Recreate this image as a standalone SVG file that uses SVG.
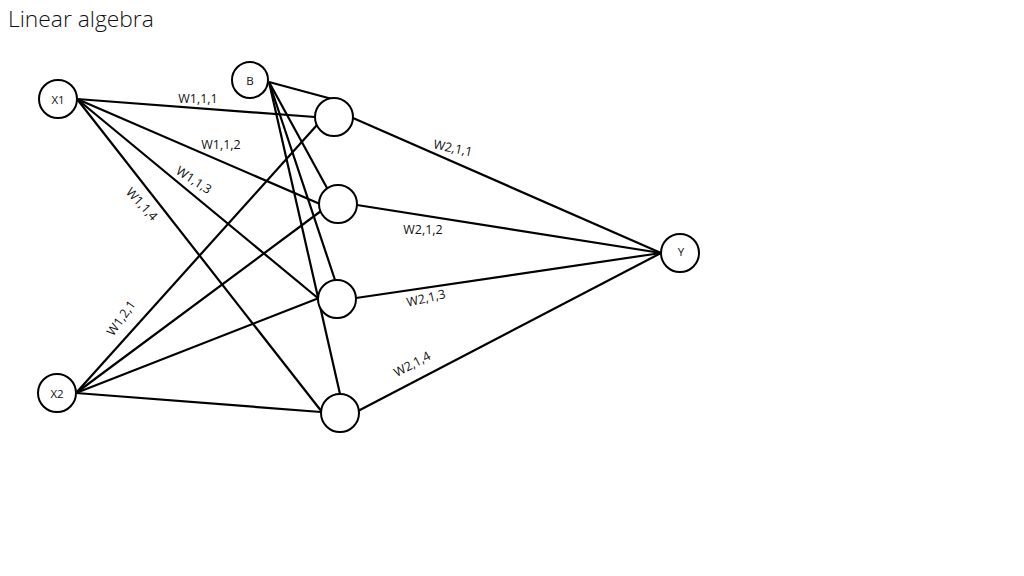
<svg xmlns="http://www.w3.org/2000/svg" width="1024" height="576" viewBox="0 0 1024 576">
<style>
.n{fill:#fff;stroke:#000;stroke-width:2}
.e{stroke:#000;stroke-width:2.2;fill:none}
.t{font-family:"Open Sans","Liberation Sans",sans-serif;font-size:11.5px;fill:#111;text-anchor:middle;dominant-baseline:central}
.w{font-family:"Open Sans","Liberation Sans",sans-serif;font-size:12.5px;fill:#111;text-anchor:middle;dominant-baseline:central}
.title{font-family:"Open Sans","Liberation Sans",sans-serif;font-weight:300;font-size:22.8px;fill:#111}
</style>
<rect width="1024" height="576" fill="#fff"/>
<text class="title" x="8" y="27">Linear algebra</text>
<g id="connectors">
<line class="e" x1="77" y1="99" x2="315" y2="117"/>
<line class="e" x1="77" y1="99" x2="320" y2="204"/>
<line class="e" x1="77" y1="99" x2="319" y2="299"/>
<line class="e" x1="77" y1="99" x2="322" y2="412"/>
<line class="e" x1="76" y1="393" x2="317" y2="125"/>
<line class="e" x1="76" y1="393" x2="321" y2="211"/>
<line class="e" x1="76" y1="393" x2="319" y2="298"/>
<line class="e" x1="76" y1="393" x2="321" y2="412"/>
<line class="e" x1="269" y1="82" x2="332" y2="99"/>
<line class="e" x1="269" y1="82" x2="327" y2="188"/>
<line class="e" x1="269" y1="82" x2="335" y2="280"/>
<line class="e" x1="269" y1="82" x2="340" y2="394"/>
<line class="e" x1="353" y1="118" x2="661" y2="253"/>
<line class="e" x1="357" y1="205" x2="661" y2="253"/>
<line class="e" x1="356" y1="298" x2="661" y2="253"/>
<line class="e" x1="358" y1="411" x2="661" y2="253"/>
</g>
<g id="labels">
<text class="w" x="198" y="98">W1,1,1</text>
<text class="w" x="221" y="144">W1,1,2</text>
<text class="w" x="194" y="180" transform="rotate(33 194 180)">W1,1,3</text>
<text class="w" x="142" y="204" transform="rotate(47 142 204)">W1,1,4</text>
<text class="w" x="121" y="318" transform="rotate(-55 121 318)">W1,2,1</text>
<text class="w" x="453" y="148" transform="rotate(12 453 148)">W2,1,1</text>
<text class="w" x="423" y="229">W2,1,2</text>
<text class="w" x="426" y="298" transform="rotate(-13 426 298)">W2,1,3</text>
<text class="w" x="412" y="364" transform="rotate(-28 412 364)">W2,1,4</text>
</g>
<g id="X1"><circle class="n" cx="58" cy="99" r="19"/><text class="t" x="58" y="99">X1</text></g>
<g id="X2"><circle class="n" cx="57" cy="393" r="19"/><text class="t" x="57" y="393">X2</text></g>
<g id="B"><circle class="n" cx="250" cy="80" r="18"/><text class="t" x="250" y="80">B</text></g>
<g id="H1"><circle class="n" cx="334" cy="117" r="19"/></g>
<g id="H2"><circle class="n" cx="338" cy="204" r="19"/></g>
<g id="H3"><circle class="n" cx="337" cy="299" r="19"/></g>
<g id="H4"><circle class="n" cx="340" cy="413" r="19"/></g>
<g id="Y"><circle class="n" cx="680" cy="253" r="19"/><text class="t" x="681" y="251">Y</text></g>
</svg>
